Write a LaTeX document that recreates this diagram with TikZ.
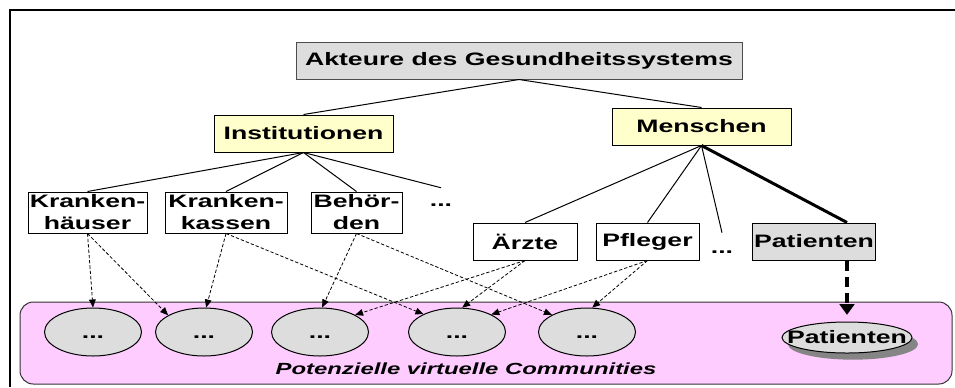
\documentclass[tikz,border=0pt]{standalone}
\usepackage{fontspec}
\setmainfont{Liberation Sans}[FakeStretch=1.48]
\usepackage{xcolor}
\usepackage{tikz}
\usetikzlibrary{arrows.meta,shapes.geometric,shadows}

\definecolor{boxgray}{HTML}{DDDDDD}
\definecolor{boxyellow}{HTML}{FFFFCC}
\definecolor{commpink}{HTML}{FFCCFF}
\definecolor{shadowgray}{HTML}{858585}

\begin{document}
\begin{tikzpicture}[x=0.75pt, y=-0.75pt,
  font=\fontsize{13.5}{16.5}\selectfont\bfseries,
  actor/.style={draw, line width=0.75pt, inner sep=1pt, minimum height=27.75pt, align=center},
  comm/.style={ellipse, draw, line width=0.75pt, fill=boxgray, inner sep=0pt,
    minimum width=72.75pt, minimum height=36pt, text height=9pt, text depth=0pt},
  tree/.style={draw, line width=0.75pt},
  link/.style={draw, line width=0.6pt, dash pattern=on 2.5pt off 1.5pt,
    -{Triangle[length=6pt,width=5pt]}}]
  \useasboundingbox (0,0) rectangle (955,387);
  \draw[line width=1.5pt] (955,10) -- (10,10) -- (10,387);
  % community area
  \draw[fill=commpink, draw=black!80, line width=0.75pt, rounded corners=10pt] (20,302) rectangle (952,384);
  \node[font=\fontsize{12.1}{14.5}\selectfont\bfseries\itshape] (commlabel) at (466,369) {Potenzielle virtuelle Communities};

  \node[actor, fill=boxgray, draw=black!70, minimum width=334.5pt] (root) at (519,60.5) {Akteure des Gesundheitssystems};
  \node[actor, fill=boxyellow, minimum width=134.25pt] (inst) at (303.5,133.5) {Institutionen};
  \node[actor, fill=boxyellow, minimum width=134.25pt] (mensch) at (701.5,126.5) {Menschen};

  \node[actor, minimum width=89.25pt, minimum height=30.75pt] (khaus) at (87.5,212.5) {Kranken-\\häuser};
  \node[actor, minimum width=91.5pt, minimum height=30.75pt] (kkasse) at (226,212.5) {Kranken-\\kassen};
  \node[actor, minimum width=68.25pt, minimum height=30.75pt] (behoerde) at (356.5,212.5) {Behör-\\den};
  \node[inner sep=0pt, minimum height=25.5pt] (idots) at (441,205) {...};

  \node[actor, minimum width=78pt] (aerzte) at (525,241.5) {Ärzte};
  \node[actor, minimum width=77.25pt] (pfleger) at (647.5,241.5) {Pfleger};
  \node[inner sep=0pt, minimum height=28.5pt] (mdots) at (722,252) {...};
  \node[actor, fill=boxgray, minimum width=85.5pt] (patient) at (814,241.5) {Patienten};

  \foreach \x/\n in {93/c1, 204/c2, 320/c3, 457/c4, 587/c5}
  {
    \node[comm] (\n) at (\x,332) {...};
  }
  \node[ellipse, draw, line width=0.75pt, fill=boxgray, inner sep=0pt,
    minimum width=97.5pt, minimum height=23.25pt,
    drop shadow={shadow xshift=4.5pt, shadow yshift=-5pt, fill=shadowgray, opacity=1}]
    (pell) at (847,337.5) {\makebox[0pt]{Patienten}};

  \path[tree] (root.south)--(inst.north);
  \path[tree] (root.south)--(mensch.north);
  \path[tree] (inst.south)--(khaus.north);
  \path[tree] (inst.south)--(kkasse.north);
  \path[tree] (inst.south)--(behoerde.north);
  \path[tree] (inst.south)--(idots.north);
  \path[tree] (mensch.south)--(aerzte.north);
  \path[tree] (mensch.south)--(pfleger.north);
  \path[tree] (mensch.south)--(mdots.north);
  \path[draw, line width=2.25pt] (mensch.south)--(patient.north -| pell.north);

  \path[link] (khaus.south)--(c1.north);
  \path[link] (khaus.south)--(c2.155);
  \path[link] (kkasse.south)--(c2.85);
  \path[link] (kkasse.south)--(c4.152);
  \path[link] (behoerde.south)--(c3.85);
  \path[link] (behoerde.south)--(c5.154);
  \path[link] (aerzte.south)--(c3.26);
  \path[link] (aerzte.south)--(c4.78);
  \path[link] (pfleger.south)--(c4.27);
  \path[link] (pfleger.south)--(c5.78);
  \path[draw, line width=3.5pt, dash pattern=on 7.5pt off 4.5pt, shorten >=5pt,
    -{Triangle[length=8pt,width=11pt]}] (patient.south -| pell.north)--(pell.north);
\end{tikzpicture}
\end{document}
